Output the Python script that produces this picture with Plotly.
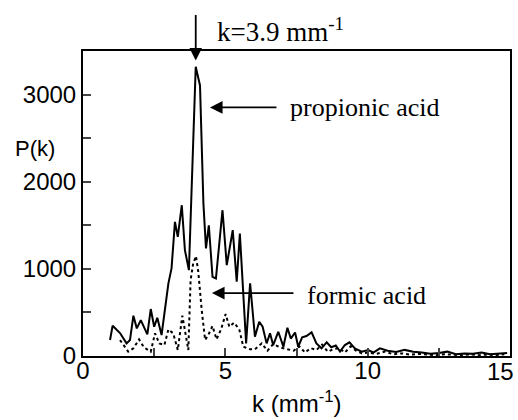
import plotly.graph_objects as go

k_prop = [0.95, 1.04, 1.3, 1.53, 1.65, 1.77, 1.89, 2.03, 2.26, 2.38, 2.5, 2.61, 2.76, 3.0, 3.11,
          3.23, 3.33, 3.47, 3.58, 3.72, 3.96, 4.11, 4.23, 4.32, 4.42, 4.55, 4.67, 4.9, 5.05, 5.26,
          5.4, 5.51, 5.73, 5.87, 6.04, 6.19, 6.31, 6.45, 6.57, 6.68, 6.86, 7.04, 7.18, 7.3, 7.45,
          7.56, 7.7, 7.85, 8.03, 8.2, 8.38, 8.56, 8.72, 8.88, 9.03, 9.2, 9.36, 9.55, 9.79, 10.02,
          10.2, 10.43, 10.7, 11.0, 11.3, 11.6, 11.9, 12.2, 12.5, 12.8, 13.1, 13.4, 13.7, 14.0,
          14.3, 14.6, 14.9]
p_prop = [183, 347, 263, 145, 183, 462, 317, 412, 248, 539, 336, 439, 241, 833, 1005,
          1539, 1367, 1730, 1215, 985, 3320, 3105, 1750, 1234, 1500, 909, 890, 1673, 1043, 1444,
          852, 1406, 145, 833, 221, 393, 336, 145, 260, 126, 278, 107, 325, 200, 270,
          107, 214, 229, 271, 145, 88, 157, 100, 120, 50, 126, 157, 88, 50, 69,
          40, 88, 60, 45, 70, 50, 40, 25, 35, 50, 20, 30, 25, 40,
          20, 30, 35]

k_form = [1.3, 1.59, 1.77, 1.97, 2.14, 2.38, 2.53, 2.68, 2.86, 3.0, 3.17, 3.33, 3.49, 3.58, 3.7,
          3.78, 3.87, 3.97, 4.05, 4.17, 4.29, 4.4, 4.55, 4.69, 4.85, 5.01, 5.14, 5.31, 5.49, 5.63,
          5.87, 6.04, 6.28, 6.48, 6.68, 6.92, 7.15, 7.4, 7.6, 7.8, 8.0, 8.2, 8.4, 8.6, 8.8,
          9.0, 9.2, 9.4, 9.6, 9.8, 10.0, 10.3, 10.6, 10.9, 11.2, 11.5, 11.8, 12.1, 12.4, 12.7,
          13.0, 13.3, 13.6, 13.9, 14.2, 14.5, 14.8]
p_form = [183, 50, 88, 191, 99, 50, 260, 145, 126, 305, 260, 69, 462, 298, 69,
          871, 1062, 1146, 966, 527, 183, 241, 344, 191, 305, 481, 336, 382, 305, 107,
          77, 77, 145, 61, 137, 99, 77, 60, 110, 40, 90, 70, 130, 50, 80,
          90, 40, 110, 60, 30, 40, 25, 50, 20, 30, 15, 25, 20, 10, 20,
          15, 10, 20, 10, 15, 10, 20]

x_ticks = [0, 5, 10, 15]
x_ticktext = ["0", "5", "10", ""]   # "15" is placed as an edge label so it is not cut off
x_last_label = "15"
y_ticks = [0, 1000, 2000, 3000]

peak_k = 3.96
peak_label = "k=3.9 mm<sup>-1</sup>"

fig = go.Figure()
fig.add_trace(go.Scatter(x=k_prop, y=p_prop, mode="lines",
                         line=dict(color="black", width=2), name="propionic acid"))
fig.add_trace(go.Scatter(x=k_form, y=p_form, mode="lines",
                         line=dict(color="black", width=2, dash="dot"), name="formic acid"))

serif = dict(family="Liberation Serif, Times New Roman, serif", size=26, color="black")
sans_family = "Liberation Sans, Arial, sans-serif"
sans = dict(family=sans_family, size=24, color="black")

anns = [
    dict(x=peak_k, y=3390, xref="x", yref="y", ax=0, ay=-47, text="", showarrow=True,
         arrowhead=2, arrowsize=1.4, arrowwidth=1.8, arrowcolor="black"),
    dict(x=4.64, y=1.069, xref="x", yref="paper", text=peak_label, showarrow=False,
         xanchor="left", yanchor="middle", font=dict(serif, size=27)),
    dict(x=4.46, y=2853, xref="x", yref="y", ax=68, ay=0, text="", showarrow=True,
         arrowhead=2, arrowsize=1.4, arrowwidth=1.8, arrowcolor="black"),
    dict(x=7.2, y=2853, xref="x", yref="y", text="propionic acid", showarrow=False,
         xanchor="left", yanchor="middle", font=serif),
    dict(x=4.53, y=722, xref="x", yref="y", ax=83, ay=0, text="", showarrow=True,
         arrowhead=2, arrowsize=1.4, arrowwidth=1.8, arrowcolor="black"),
    dict(x=7.8, y=700, xref="x", yref="y", text="formic acid", showarrow=False,
         xanchor="left", yanchor="middle", font=serif),
    dict(x=-0.062, y=2383, xref="paper", yref="y", text="P(k)", showarrow=False,
         xanchor="right", yanchor="middle", font=dict(family=sans_family, size=22, color="black")),
    dict(x=0.5, y=-0.152, xref="paper", yref="paper", text="k (mm<sup>-1</sup>)", showarrow=False,
         xanchor="center", yanchor="middle", font=dict(family=sans_family, size=24, color="black")),
    dict(x=1.0, y=-0.052, xref="paper", yref="paper", text=x_last_label, showarrow=False,
         xanchor="right", xshift=6, yanchor="middle", font=dict(family=sans_family, size=24, color="black")),
]

fig.update_layout(
    width=518, height=420,
    margin=dict(l=83, r=8, t=51, b=64),
    paper_bgcolor="white", plot_bgcolor="white",
    showlegend=False,
    annotations=anns,
    font=sans,
)
fig.update_xaxes(range=[0, 15], tickvals=x_ticks, ticktext=x_ticktext, ticks="inside",
                 ticklen=8, tickwidth=2, ticklabelstandoff=-8,
                 automargin=False,
                 showline=True, linewidth=2, linecolor="black", mirror=True,
                 showgrid=False, zeroline=False, tickfont=dict(size=24),
                 minor=dict(dtick=2.5, ticks="inside", ticklen=8, tickwidth=2, showgrid=False))
fig.update_yaxes(range=[0, 3500], tickvals=y_ticks, ticks="inside", ticklen=8, tickwidth=2,
                 automargin=False,
                 showline=True, linewidth=2, linecolor="black", mirror=True,
                 showgrid=False, zeroline=False, tickfont=dict(size=24),
                 minor=dict(dtick=500, ticks="inside", ticklen=8, tickwidth=2, showgrid=False))

fig.write_html("out.html", config={"displayModeBar": False},
               post_script="document.body.style.margin='0';")
